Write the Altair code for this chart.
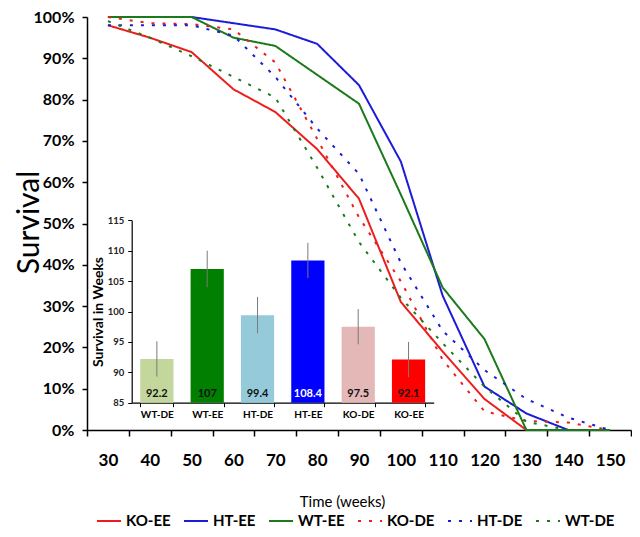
import altair as alt
import pandas as pd

# ---- survival curves (percent surviving at each week) ----
weeks = [30, 40, 50, 60, 70, 80, 90, 100, 110, 120, 130, 140, 150]
ko_ee = [98, 95, 91.5, 82.5, 77, 68, 56, 31, 19, 7.5, 0, 0, 0]
ht_ee = [100, 100, 100, 98.5, 97, 93.5, 83.5, 65, 32.5, 10.5, 4, 0, 0]
wt_ee = [100, 100, 100, 95, 93, 86, 79, 57, 34.5, 22, 0, 0, 0]
ko_de = [100, 98.5, 98.3, 97, 89, 70.5, 51.5, 36, 17, 4.5, 2.2, 1.8, 0]
ht_de = [98, 98, 98, 95.5, 85.5, 73, 62, 40.5, 24, 14.5, 7.5, 3, 0]
wt_de = [99, 95, 90.5, 85.5, 80.5, 63.5, 45.5, 32, 21, 10.5, 2, 0, 0]

series_names = ["KO-EE", "HT-EE", "WT-EE", "KO-DE", "HT-DE", "WT-DE"]
series_values = [ko_ee, ht_ee, wt_ee, ko_de, ht_de, wt_de]
series_colors = ["#ee1d1d", "#1c1cd8", "#1b7a1b", "#ee1d1d", "#1c1cd8", "#1b7a1b"]
series_dash = [[1, 0], [1, 0], [1, 0], [3, 8], [3, 8], [3, 8]]
series_width = [2, 2, 2, 2.6, 2.6, 2.6]

# ---- inset bar chart (mean survival in weeks) ----
groups = ["WT-DE", "WT-EE", "HT-DE", "HT-EE", "KO-DE", "KO-EE"]
means = [92.2, 107, 99.4, 108.4, 97.5, 92.1]
mean_labels = ["92.2", "107", "99.4", "108.4", "97.5", "92.1"]
errors = [2.9, 3.0, 3.0, 2.9, 2.9, 2.9]
bar_colors = ["#c3d69b", "#007f00", "#95cadb", "#0000ff", "#e3b8b7", "#ff0000"]

rows = []
for name, vals in zip(series_names, series_values):
    for w, v in zip(weeks, vals):
        rows.append({"series": name, "week": w, "surv": v})
lines_df = pd.DataFrame(rows)

bar_df = pd.DataFrame({
    "group": groups,
    "mean": means,
    "lab": mean_labels,
    "lo": [m - e for m, e in zip(means, errors)],
    "hi": [m + e for m, e in zip(means, errors)],
    "color": bar_colors,
})

PLOT_W, PLOT_H = 544, 413
BAND = PLOT_W / 13
FONT = "Lato"

legend = alt.Legend(
    title=None, orient="none", legendX=9, legendY=491, direction="horizontal",
    columns=6, symbolType="stroke", symbolSize=576, symbolStrokeWidth=2.5,
    labelFont=FONT, labelFontSize=15, labelFontWeight="bold", labelColor="black",
    labelOffset=4, columnPadding=9, padding=0,
)

lines = alt.Chart(lines_df).mark_line(strokeCap="butt").encode(
    x=alt.X(
        "week:Q",
        scale=alt.Scale(domain=[25, 155], nice=False, zero=False),
        axis=alt.Axis(
            values=list(range(25, 156, 10)),
            labelExpr="datum.value < 150 ? toString(datum.value + 5) : ''",
            labelOffset=BAND / 2, labelFlush=False, labelOverlap=False, labelBound=False,
            labelFont=FONT, labelFontSize=17, labelFontWeight="bold", labelColor="black",
            labelBaseline="middle", labelPadding=24,
            tickSize=6, tickWidth=1.5, tickColor="black", domainWidth=1.5, domainColor="black",
            grid=False, title="Time (weeks)", titleFont=FONT, titleFontSize=15,
            titleFontWeight="normal", titleColor="black", titleX=255, titleY=71,
            titleBaseline="middle", titleAlign="center",
        ),
    ),
    y=alt.Y(
        "surv:Q",
        scale=alt.Scale(domain=[0, 100], nice=False, zero=False),
        axis=alt.Axis(
            values=list(range(0, 101, 10)), labelExpr="datum.value + '%'",
            labelFont=FONT, labelFontSize=16, labelFontWeight="bold", labelColor="black",
            labelPadding=8, tickSize=5, tickWidth=1.5, tickColor="black",
            domainWidth=1.5, domainColor="black", grid=False,
            title="Survival", titleFont=FONT, titleFontSize=30, titleFontWeight="normal",
            titleColor="black", titleX=-58, titleY=205, titleBaseline="middle",
            titleAlign="center", titleAngle=270,
        ),
    ),
    color=alt.Color("series:N", scale=alt.Scale(domain=series_names, range=series_colors), legend=legend),
    strokeDash=alt.StrokeDash("series:N", scale=alt.Scale(domain=series_names, range=series_dash), legend=legend),
    strokeWidth=alt.StrokeWidth("series:N", scale=alt.Scale(domain=series_names, range=series_width), legend=None),
)

INSET_X_RANGE = [44.7, 346.7]
INSET_Y_RANGE = [385.7, 203.3]

xi = alt.X(
    "group:N", sort=groups,
    scale=alt.Scale(range=INSET_X_RANGE, paddingInner=0.34, paddingOuter=0.17),
    axis=alt.Axis(
        orient="bottom", offset=-(PLOT_H - INSET_Y_RANGE[0]), title=None, labelAngle=0,
        tickBand="extent", tickSize=4, tickColor="black", tickWidth=1,
        domainColor="black", domainWidth=1.2,
        labelFont=FONT, labelFontSize=10, labelFontWeight="bold", labelColor="black",
        labelBaseline="middle", labelPadding=8, grid=False,
    ),
)

yi_scale = alt.Scale(domain=[85, 115], range=INSET_Y_RANGE, nice=False, zero=False)
yi_axis = alt.Axis(
    orient="left", offset=-INSET_X_RANGE[0], values=list(range(85, 116, 5)),
    tickSize=4, tickColor="black", tickWidth=1, domainColor="black", domainWidth=1.2,
    labelFont=FONT, labelFontSize=9.5, labelFontWeight="bold", labelColor="#222222",
    labelPadding=4, grid=False,
    title="Survival in Weeks", titleFont=FONT, titleFontSize=14, titleFontWeight="bold",
    titleColor="black", titleX=-33, titleY=(INSET_Y_RANGE[0] + INSET_Y_RANGE[1]) / 2,
    titleBaseline="middle", titleAlign="center", titleAngle=270,
)

base = alt.Chart(bar_df)
bars = base.mark_bar().encode(
    x=xi,
    y=alt.Y("mean:Q", scale=yi_scale, axis=yi_axis),
    y2=alt.datum(85),
    fill=alt.Fill("color:N", scale=None),
)
err = base.mark_rule(color="#7a7a7a", strokeWidth=1).encode(
    x=xi,
    y=alt.Y("lo:Q", scale=yi_scale, axis=yi_axis),
    y2="hi:Q",
)
txt = base.mark_text(font=FONT, fontSize=11, fontWeight="bold", dy=-9, baseline="middle").encode(
    x=xi,
    y=alt.Y(datum=85, scale=yi_scale, axis=yi_axis),
    text="lab:N",
    fill=alt.condition(alt.datum.group == "HT-EE", alt.value("white"), alt.value("#111111")),
)

inset = alt.layer(bars, err, txt)

chart = alt.layer(lines, inset).resolve_scale(
    x="independent", y="independent"
).properties(
    width=PLOT_W, height=PLOT_H,
    autosize=alt.AutoSizeParams(type="none"),
    padding={"left": 79, "top": 9, "right": 1, "bottom": 99},
    background="white",
).configure_view(stroke=None)

chart.save("out.html", embed_options={"renderer": "svg", "actions": False})
